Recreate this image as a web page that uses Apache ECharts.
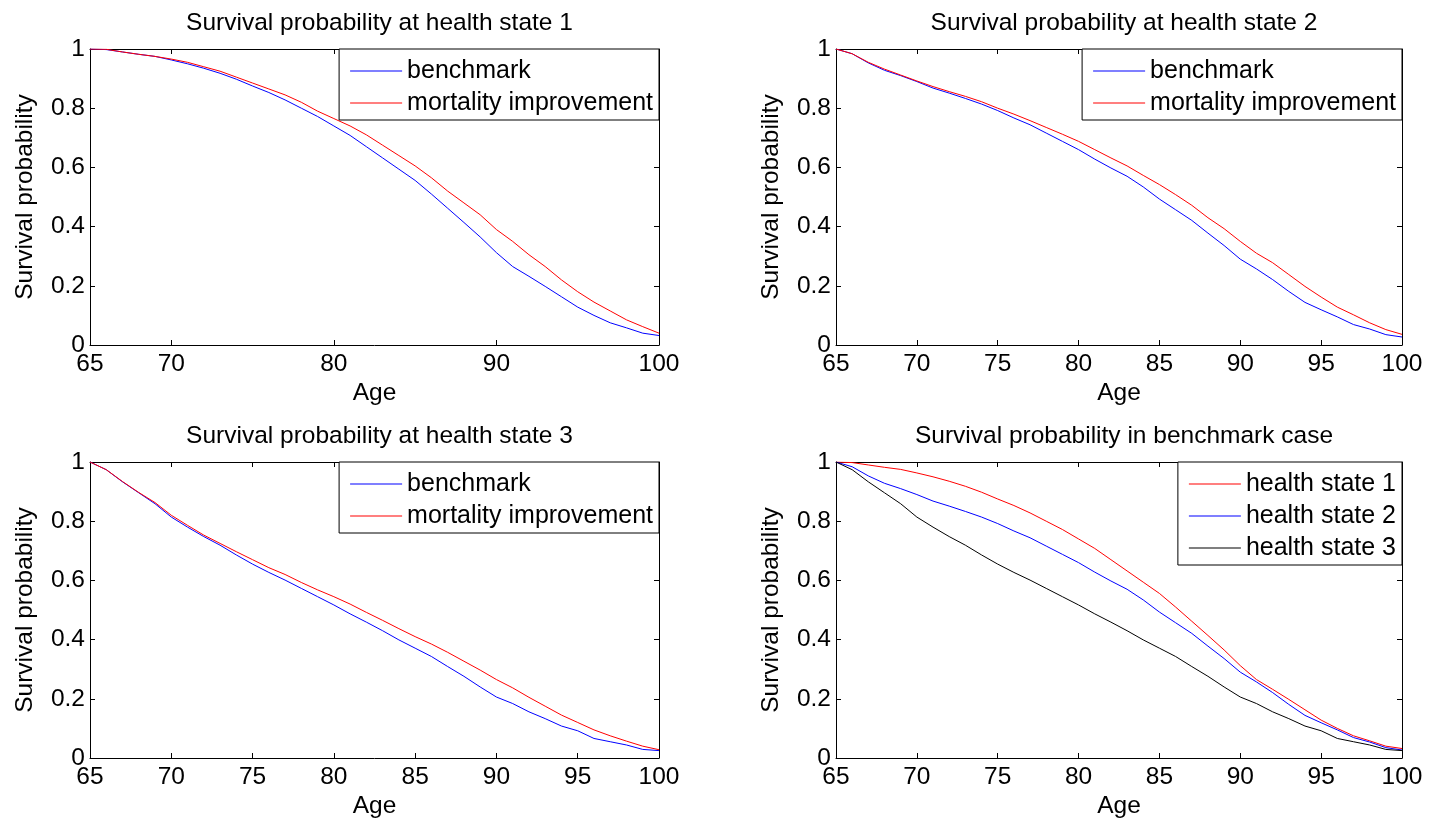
<!DOCTYPE html>
<html>
<head>
<meta charset="utf-8">
<title>Survival probability</title>
<script src="https://cdn.jsdelivr.net/npm/echarts@6/dist/echarts.min.js"></script>
<style>
html, body { margin: 0; padding: 0; background: #fff; }
#chart { width: 1430px; height: 821px; }
</style>
</head>
<body>
<div id="chart"></div>
<script>
// ages on the x axis
var ages = [65, 66, 67, 68, 69, 70, 71, 72, 73, 74, 75, 76, 77, 78, 79, 80, 81, 82,
	83, 84, 85, 86, 87, 88, 89, 90, 91, 92, 93, 94, 95, 96, 97, 98, 99, 100];

// health state 1
var bench1 = [1.0, 0.998, 0.99, 0.982, 0.975, 0.963, 0.95, 0.935, 0.918, 0.898, 0.875, 0.853,
	0.828, 0.8, 0.772, 0.74, 0.708, 0.67, 0.632, 0.594, 0.556, 0.51, 0.462, 0.414, 0.365,
	0.312, 0.265, 0.232, 0.198, 0.163, 0.128, 0.1, 0.075, 0.058, 0.04, 0.032];
var impr1 = [1.0, 0.999, 0.99, 0.982, 0.975, 0.966, 0.955, 0.94, 0.925, 0.905, 0.885, 0.865,
	0.845, 0.82, 0.79, 0.765, 0.74, 0.71, 0.675, 0.64, 0.605, 0.565, 0.52, 0.48, 0.44,
	0.39, 0.35, 0.305, 0.265, 0.22, 0.18, 0.145, 0.115, 0.085, 0.062, 0.04];

// health state 2
var bench2 = [1.0, 0.984, 0.953, 0.928, 0.91, 0.89, 0.868, 0.851, 0.833, 0.814, 0.792, 0.767,
	0.744, 0.716, 0.688, 0.66, 0.628, 0.598, 0.57, 0.534, 0.493, 0.457, 0.421, 0.378, 0.336,
	0.29, 0.257, 0.221, 0.181, 0.144, 0.119, 0.095, 0.069, 0.054, 0.035, 0.027];
var impr2 = [1.0, 0.984, 0.955, 0.932, 0.912, 0.892, 0.873, 0.856, 0.84, 0.822, 0.8, 0.78,
	0.758, 0.735, 0.712, 0.688, 0.66, 0.632, 0.605, 0.573, 0.542, 0.508, 0.472, 0.43, 0.393,
	0.35, 0.31, 0.278, 0.238, 0.198, 0.162, 0.128, 0.102, 0.075, 0.052, 0.036];

// health state 3
var bench3 = [1.0, 0.974, 0.933, 0.896, 0.859, 0.814, 0.78, 0.748, 0.719, 0.686, 0.655, 0.627,
	0.601, 0.573, 0.545, 0.517, 0.487, 0.459, 0.43, 0.399, 0.371, 0.343, 0.309, 0.276, 0.24,
	0.206, 0.184, 0.156, 0.133, 0.108, 0.092, 0.066, 0.055, 0.044, 0.029, 0.025];
var impr3 = [1.0, 0.974, 0.934, 0.897, 0.863, 0.82, 0.786, 0.753, 0.725, 0.697, 0.67, 0.643,
	0.62, 0.593, 0.568, 0.545, 0.52, 0.492, 0.465, 0.437, 0.41, 0.385, 0.357, 0.327, 0.297,
	0.265, 0.237, 0.205, 0.175, 0.145, 0.12, 0.095, 0.075, 0.057, 0.04, 0.028];

var xTicksFirst = [65, 70, 80, 90, 100];
var xTicks = [65, 70, 75, 80, 85, 90, 95, 100];
var yTicks = [0, 0.2, 0.4, 0.6, 0.8, 1];

var titles = [
	'Survival probability at health state 1',
	'Survival probability at health state 2',
	'Survival probability at health state 3',
	'Survival probability in benchmark case'
];
var pairNames = ['benchmark', 'mortality improvement'];
var stateNames = ['health state 1', 'health state 2', 'health state 3'];

var BLUE = '#0000ff', RED = '#ff0000', BLACK = '#000000';
var FONT = '"Liberation Sans", Arial, sans-serif';
var FS = 24.5;
var FS_LEGEND = 25;

// plot boxes: left, top, width, height
var boxes = [
	[90, 49, 569, 296],
	[836, 49, 566, 296],
	[90, 462, 569, 296],
	[836, 462, 566, 296]
];

function pairs(ys) {
	return ages.map(function (a, i) { return [a, ys[i]]; });
}

var lineAxis = { show: true, onZero: false, lineStyle: { color: '#000', width: 1 } };

function xAxes(gi, ticks) {
	var base = {
		gridIndex: gi, type: 'value', min: 65, max: 100,
		axisLine: lineAxis,
		splitLine: { show: false }
	};
	var bottom = Object.assign({}, base, {
		position: 'bottom',
		name: 'Age', nameLocation: 'middle', nameGap: 36,
		nameTextStyle: { fontSize: FS, color: '#000', fontFamily: FONT },
		axisTick: { show: true, inside: true, length: 5, customValues: ticks, lineStyle: { color: '#000' } },
		axisLabel: { customValues: ticks, margin: 7, fontSize: FS, color: '#000', fontFamily: FONT }
	});
	var top = Object.assign({}, base, {
		position: 'top',
		axisTick: { show: true, inside: true, length: 5, customValues: ticks, lineStyle: { color: '#000' } },
		axisLabel: { show: false }
	});
	return [bottom, top];
}

function yAxes(gi) {
	var base = {
		gridIndex: gi, type: 'value', min: 0, max: 1, interval: 0.2,
		axisLine: lineAxis,
		splitLine: { show: false }
	};
	var left = Object.assign({}, base, {
		position: 'left',
		name: 'Survival probability', nameLocation: 'middle', nameGap: 52,
		nameTextStyle: { fontSize: FS, color: '#000', fontFamily: FONT },
		axisTick: { show: true, inside: true, length: 5, customValues: yTicks, lineStyle: { color: '#000' } },
		axisLabel: { customValues: yTicks, margin: 5, fontSize: FS, color: '#000', fontFamily: FONT }
	});
	var right = Object.assign({}, base, {
		position: 'right',
		axisTick: { show: true, inside: true, length: 5, customValues: yTicks, lineStyle: { color: '#000' } },
		axisLabel: { show: false }
	});
	return [left, right];
}

function line(name, gi, ys, color) {
	return {
		name: name, type: 'line',
		xAxisIndex: gi * 2, yAxisIndex: gi * 2,
		data: pairs(ys),
		symbol: 'none',
		color: color,
		lineStyle: { color: color, width: 1 },
		itemStyle: { color: color },
		silent: true
	};
}

// legend sample: a thin bar the width of the icon
var SAMPLE = 'path://M0,0H52V1H0Z';

function legendAt(gi, names, colors) {
	var b = boxes[gi];
	return {
		data: names.map(function (n, i) {
			return { name: n, icon: SAMPLE, itemStyle: { color: colors[i], borderWidth: 0, opacity: 1 } };
		}),
		orient: 'vertical',
		right: 1430 - (b[0] + b[2]),
		top: b[1],
		padding: [9, 6, 4, 11],
		itemGap: 6,
		itemWidth: 52,
		itemHeight: 1,
		lineStyle: { opacity: 0 },
		backgroundColor: '#fff',
		borderColor: '#000',
		borderWidth: 1,
		borderRadius: 0,
		selectedMode: false,
		textStyle: { fontSize: FS_LEGEND, color: '#000', fontFamily: FONT, lineHeight: 26 }
	};
}

var grids = [], xs = [], ys = [], tt = [];
boxes.forEach(function (b, gi) {
	grids.push({ left: b[0], top: b[1], width: b[2], height: b[3], containLabel: false });
	xs = xs.concat(xAxes(gi, gi === 0 ? xTicksFirst : xTicks));
	ys = ys.concat(yAxes(gi));
	tt.push({
		text: titles[gi],
		left: b[0] + b[2] / 2,
		top: b[1] - 43,
		textAlign: 'center',
		textStyle: { fontSize: FS, fontWeight: 'normal', color: '#000', fontFamily: FONT }
	});
});

var chart = echarts.init(document.getElementById('chart'), null, { renderer: 'canvas' });
chart.setOption({
	animation: false,
	backgroundColor: '#fff',
	title: tt,
	grid: grids,
	xAxis: xs,
	yAxis: ys,
	legend: [
		legendAt(3, stateNames, [RED, BLUE, BLACK]),
		legendAt(2, pairNames, [BLUE, RED]),
		legendAt(0, pairNames, [BLUE, RED]),
		legendAt(1, pairNames, [BLUE, RED])
	],
	series: [
		line(pairNames[0], 0, bench1, BLUE),
		line(pairNames[1], 0, impr1, RED),
		line(pairNames[0], 1, bench2, BLUE),
		line(pairNames[1], 1, impr2, RED),
		line(pairNames[0], 2, bench3, BLUE),
		line(pairNames[1], 2, impr3, RED),
		line(stateNames[0], 3, bench1, RED),
		line(stateNames[1], 3, bench2, BLUE),
		line(stateNames[2], 3, bench3, BLACK)
	]
});
</script>
</body>
</html>
